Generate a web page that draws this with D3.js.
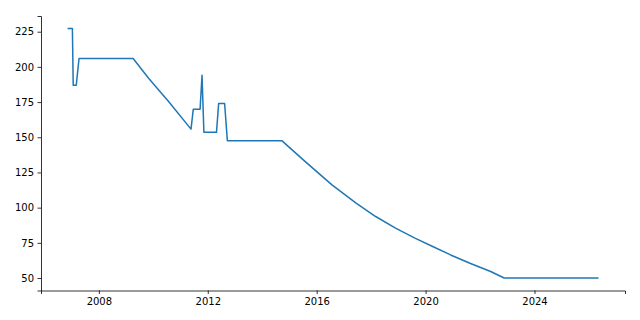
<!DOCTYPE html>
<html>
<head>
<meta charset="utf-8">
<script src="https://cdn.jsdelivr.net/npm/d3@7"></script>
<style>
  body { margin: 0; background: #fff; }
  #wrapper svg { display: block; }
  .tick text { font-family: "DejaVu Sans", sans-serif; font-size: 10px; fill: #000; }
</style>
</head>
<body>
<div id="wrapper"></div>
<script>
// data
const dates = [
  "2006-11-07", "2007-01-11", "2007-01-22", "2007-03-04", "2007-04-10",
  "2009-04-05", "2009-11-01", "2010-07-27", "2011-05-21", "2011-06-21",
  "2011-09-20", "2011-10-16", "2011-11-10", "2012-04-27", "2012-05-26",
  "2012-08-14", "2012-09-20", "2014-09-20", "2015-08-01", "2016-07-24",
  "2017-06-13", "2018-03-02", "2018-11-24", "2019-08-18", "2020-04-05",
  "2020-12-02", "2021-08-26", "2022-05-23", "2022-11-20", "2026-05-08"
]
const values = [
  227.3, 227.3, 187, 187, 206,
  206, 191.8, 175.2, 155.8, 170,
  170, 194, 153.5, 153.5, 174,
  174, 147.6, 147.6, 132.7, 116.2,
  103.2, 93.7, 85.5, 78.2, 72.4,
  66.4, 60.3, 54.6, 50, 50
]
const xTicks = ["2008-01-01", "2012-01-01", "2016-01-01", "2020-01-01", "2024-01-01"]
const yTicks = [50, 75, 100, 125, 150, 175, 200, 225]

function drawLine() {
  const parse = d3.timeParse("%Y-%m-%d")
  const data = dates.map((d, i) => ({ date: parse(d), value: values[i] }))

  const xAccessor = d => d.date
  const yAccessor = d => d.value

  const dims = {
    width: 640,
    height: 320,
    margin: { top: 16, right: 15, bottom: 29.5, left: 41 }
  }
  dims.boundedWidth = dims.width - dims.margin.left - dims.margin.right
  dims.boundedHeight = dims.height - dims.margin.top - dims.margin.bottom

  const wrapper = d3.select("#wrapper")
    .append("svg")
      .attr("width", dims.width)
      .attr("height", dims.height)

  const bounds = wrapper.append("g")
      .attr("transform", `translate(${dims.margin.left},${dims.margin.top})`)

  // scales with matplotlib-like 5% padding
  const [x0, x1] = d3.extent(data, xAccessor).map(d => +d)
  const xPad = (x1 - x0) * 0.05
  const xScale = d3.scaleTime()
    .domain([new Date(x0 - xPad), new Date(x1 + xPad)])
    .range([0, dims.boundedWidth])

  const [y0, y1] = d3.extent(data, yAccessor)
  const yPad = (y1 - y0) * 0.05
  const yScale = d3.scaleLinear()
    .domain([y0 - yPad, y1 + yPad])
    .range([dims.boundedHeight, 0])

  const lineGenerator = d3.line()
    .x(d => xScale(xAccessor(d)))
    .y(d => yScale(yAccessor(d)))

  bounds.append("path")
    .datum(data)
    .attr("fill", "none")
    .attr("stroke", "#1f77b4")
    .attr("stroke-width", 1.5)
    .attr("stroke-linejoin", "round")
    .attr("d", lineGenerator)

  const xAxisGenerator = d3.axisBottom(xScale)
    .tickValues(xTicks.map(parse))
    .tickFormat(d3.timeFormat("%Y"))
    .tickSizeOuter(0)
    .tickSize(3.5)
    .tickPadding(3.5)

  const xAxis = bounds.append("g")
    .attr("transform", `translate(0,${dims.boundedHeight})`)
    .call(xAxisGenerator)

  const yAxisGenerator = d3.axisLeft(yScale)
    .tickValues(yTicks)
    .tickSizeOuter(0)
    .tickSize(3.5)
    .tickPadding(3.5)

  const yAxis = bounds.append("g")
    .call(yAxisGenerator)

  wrapper.selectAll(".domain, .tick line")
    .attr("stroke", "#000")
    .attr("stroke-width", 0.8)
}
drawLine()
</script>
</body>
</html>
